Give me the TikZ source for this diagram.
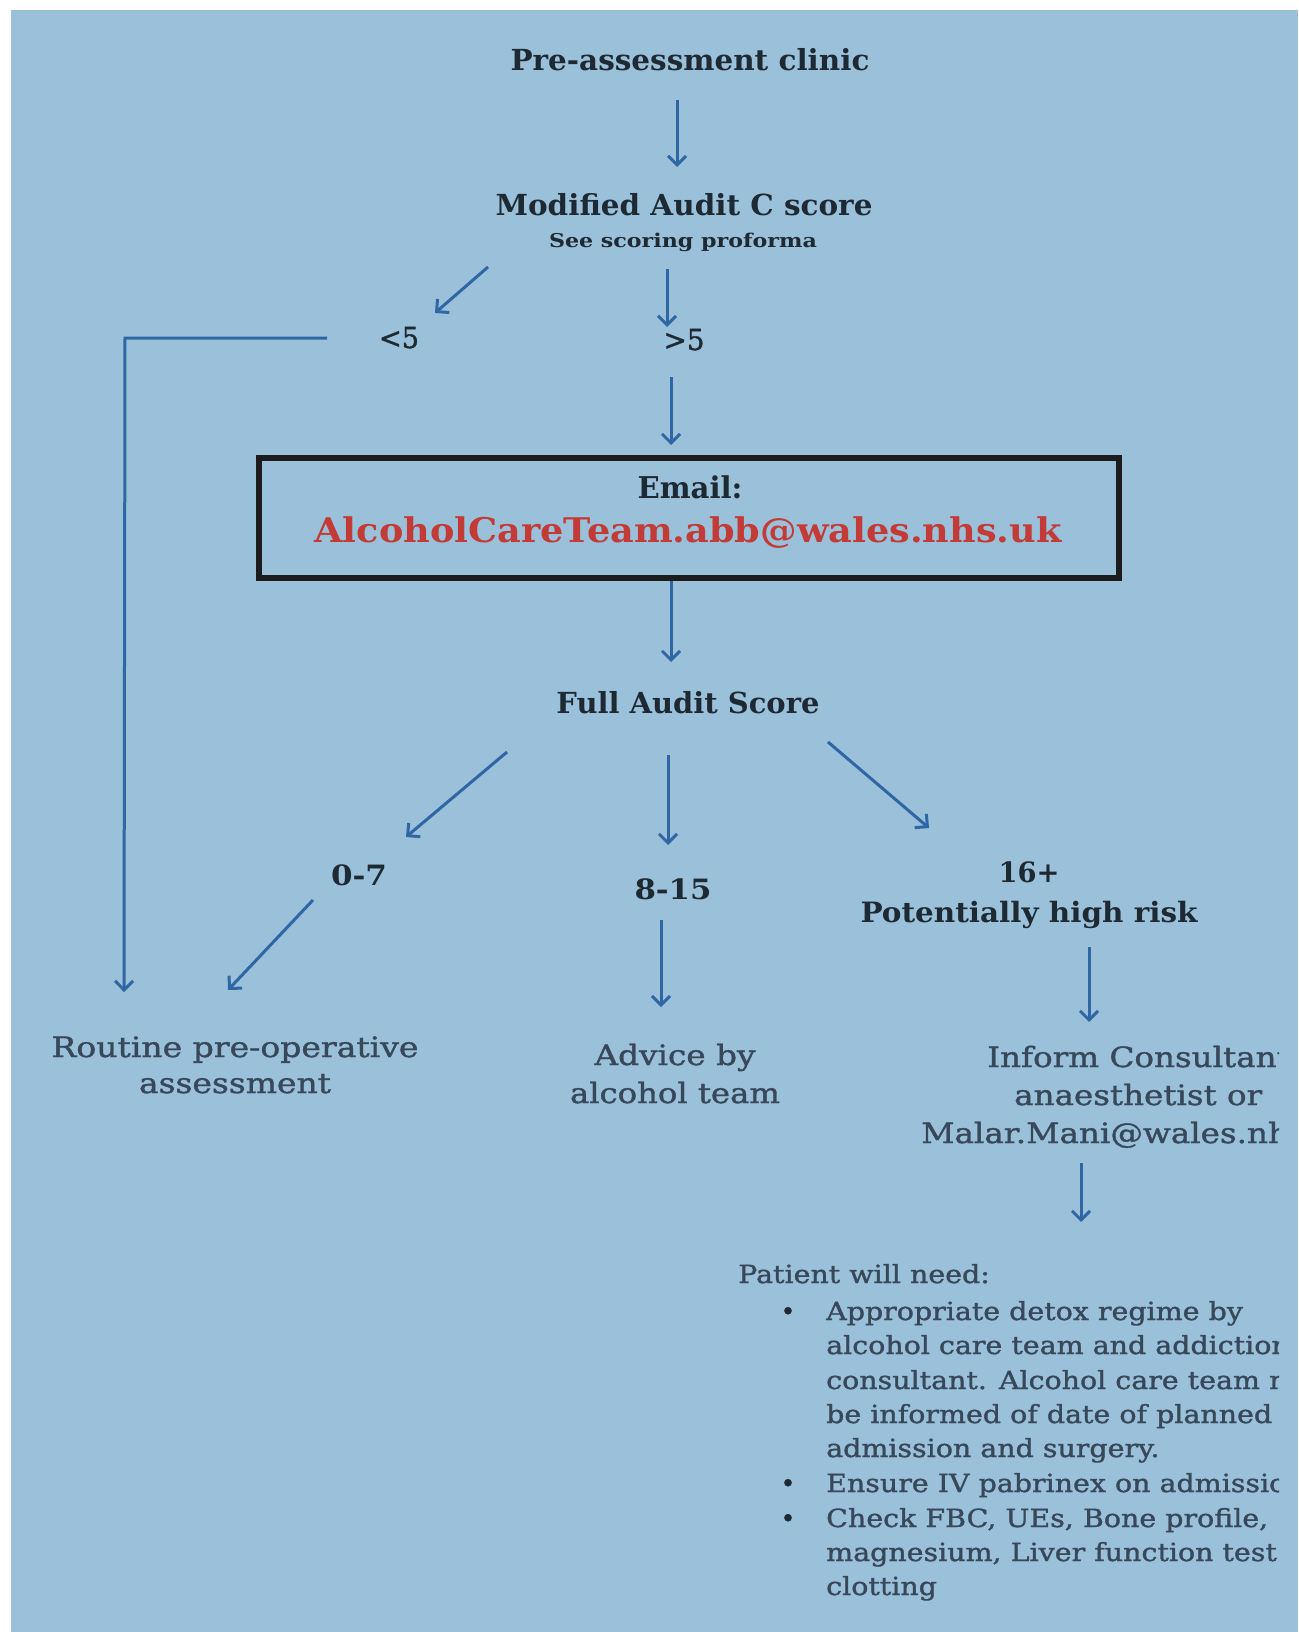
\documentclass[tikz,border=0pt]{standalone}
\usepackage{fontspec}
\setmainfont{DejaVu Serif}
\newfontfamily\medserif[FakeBold=1.2]{DejaVu Serif}
\usepackage{graphicx}
\usetikzlibrary{arrows.meta}
\definecolor{bgblue}{HTML}{9AC0DA}
\definecolor{arrowc}{HTML}{2F67A5}
\definecolor{textd}{HTML}{1E2A33}
\definecolor{textl}{HTML}{36485A}
\definecolor{emailred}{HTML}{C23B36}
\definecolor{boxc}{HTML}{1C1C1C}
\newlength\tmplen
\newcommand\hdfont{\fontsize{29}{34}\selectfont\bfseries}
\newcommand\lowfont{\medserif\fontsize{28}{34}\selectfont}
\newcommand\listfont{\medserif\fontsize{25}{34}\selectfont}
\AtBeginDocument{%
\settowidth\tmplen{\listfont be informed of date of planned}%
\pgfmathsetmacro\listsx{446/\tmplen}%
\settowidth\tmplen{\lowfont anaesthetist or}%
\pgfmathsetmacro\rightsx{248/\tmplen}%
}
\begin{document}
\begin{tikzpicture}[x=1pt,y=-1pt,
  arr/.style={draw=arrowc, line width=3pt, -{Straight Barb[length=9pt,width=18pt,line width=3pt]}},
  hd/.style={inner sep=0pt, anchor=base, text=textd, font=\hdfont},
  low/.style={inner sep=0pt, anchor=base, text=textl, font=\lowfont},
  lst/.style={inner sep=0pt, anchor=base west, text=textl, font=\listfont},
  bul/.style={inner sep=0pt, anchor=base, text=textd, font=\listfont}]
\useasboundingbox (0,0) rectangle (1298,1632);
\fill[white] (0,0) rectangle (1298,1632);
\fill[bgblue] (11,10) rectangle (1298,1632);

% top texts
\node[hd] (pre) at (690,71) {\resizebox{359pt}{\height}{Pre-assessment clinic}};
\node[hd] (mod) at (684,215) {\resizebox{377pt}{\height}{Modified Audit C score}};
\node[hd, font=\fontsize{19}{22}\selectfont\bfseries] (see) at (683,247) {\resizebox{268pt}{\height}{See scoring proforma}};
\node[hd, font=\medserif\fontsize{29}{34}\selectfont] (lt) at (399,348) {\resizebox{40pt}{\height}{<5}};
\node[hd, font=\medserif\fontsize{29}{34}\selectfont] (gt) at (684,350) {\resizebox{41pt}{\height}{>5}};

% email box
\draw[boxc, line width=6pt] (259,458) rectangle (1119,578);
\node[hd, font=\fontsize{30}{34}\selectfont\bfseries] (em) at (690,498) {\resizebox{105pt}{\height}{Email:}};
\node[hd, text=emailred, font=\fontsize{34}{40}\selectfont\bfseries] (addr) at (688,542) {\resizebox{747pt}{\height}{AlcoholCareTeam.abb@wales.nhs.uk}};

\node[hd] (full) at (688,713) {\resizebox{263pt}{\height}{Full Audit Score}};
\node[hd, font=\fontsize{28}{34}\selectfont\bfseries] (s07) at (359,885) {\resizebox{56pt}{\height}{0-7}};
\node[hd, font=\fontsize{28}{34}\selectfont\bfseries] (s815) at (673,899) {\resizebox{77pt}{\height}{8-15}};
\node[hd, font=\fontsize{28}{34}\selectfont\bfseries] (s16) at (1029,882) {\resizebox{61pt}{\height}{16+}};
\node[hd, font=\fontsize{28}{34}\selectfont\bfseries] (risk) at (1029,922) {\resizebox{337pt}{\height}{Potentially high risk}};

% lower outcomes
\node[low] (rt1) at (235,1057) {\resizebox{367pt}{\height}{Routine pre-operative}};
\node[low] (rt2) at (235,1093) {\resizebox{192pt}{\height}{assessment}};
\node[low] (ad1) at (675,1065) {\resizebox{161pt}{\height}{Advice by}};
\node[low] (ad2) at (675,1103) {\resizebox{210pt}{\height}{alcohol team}};

\begin{scope}
\clip (0,0) rectangle (1279,1632);
\node[low, anchor=base west] (inf1) at (987,1067) {\scalebox{\rightsx}[1]{Inform Consultant}};
\node[low, anchor=base west] (inf2) at (1014,1105) {\scalebox{\rightsx}[1]{anaesthetist or}};
\node[low, anchor=base west] (inf3) at (921,1143) {\scalebox{\rightsx}[1]{Malar.Mani@wales.nh}};

\node[lst] (pw) at (738,1283) {\scalebox{\listsx}[1]{Patient will need:}};
\node[bul] (b1) at (788,1320) {•};
\node[bul] (b2) at (788,1492) {•};
\node[bul] (b3) at (788,1527) {•};
\node[lst] (l1) at (826,1320) {\scalebox{\listsx}[1]{Appropriate detox regime by}};
\node[lst] (l2) at (826,1354) {\scalebox{\listsx}[1]{alcohol care team and addiction}};
\node[lst] (l3) at (826,1389) {\scalebox{\listsx}[1]{consultant. Alcohol care team m}};
\node[lst] (l4) at (826,1423) {\scalebox{\listsx}[1]{be informed of date of planned}};
\node[lst] (l5) at (826,1457) {\scalebox{\listsx}[1]{admission and surgery.}};
\node[lst] (l6) at (826,1492) {\scalebox{\listsx}[1]{Ensure IV pabrinex on admissio}};
\node[lst] (l7) at (826,1527) {\scalebox{\listsx}[1]{Check FBC, UEs, Bone profile,}};
\node[lst] (l8) at (826,1561) {\scalebox{\listsx}[1]{magnesium, Liver function test}};
\node[lst] (l9) at (826,1595) {\scalebox{\listsx}[1]{clotting}};
\end{scope}

% connector end points
\coordinate (p1a) at (677,100); \coordinate (p1b) at (677,167);
\coordinate (p2a) at (488,267); \coordinate (p2b) at (435,313);
\coordinate (p3a) at (667,269); \coordinate (p3b) at (667,327);
\coordinate (p4a) at (671,377); \coordinate (p4b) at (671,445);
\coordinate (p5a) at (671,581); \coordinate (p5b) at (671,662);
\coordinate (p6a) at (507,752); \coordinate (p6b) at (406,837);
\coordinate (p7a) at (668,755); \coordinate (p7b) at (668,845);
\coordinate (p8a) at (828,742); \coordinate (p8b) at (929,828);
\coordinate (p9a) at (313,900); \coordinate (p9b) at (228,990);
\coordinate (p10a) at (661,920); \coordinate (p10b) at (661,1007);
\coordinate (p11a) at (1089,947); \coordinate (p11b) at (1089,1022);
\coordinate (p12a) at (1081,1163); \coordinate (p12b) at (1081,1222);
\coordinate (lfa) at (327,338); \coordinate (lfc) at (125,338); \coordinate (lfb) at (124,992);

\draw[arr] (p1a) -- (p1b);
\draw[arr] (p2a) -- (p2b);
\draw[arr] (p3a) -- (p3b);
\draw[arr] (p4a) -- (p4b);
\draw[arr] (p5a) -- (p5b);
\draw[arr] (p6a) -- (p6b);
\draw[arr] (p7a) -- (p7b);
\draw[arr] (p8a) -- (p8b);
\draw[arr] (p9a) -- (p9b);
\draw[arr] (p10a) -- (p10b);
\draw[arr] (p11a) -- (p11b);
\draw[arr] (p12a) -- (p12b);
\draw[arr] (lfa) -- (lfc) -- (lfb);
\end{tikzpicture}
\end{document}
